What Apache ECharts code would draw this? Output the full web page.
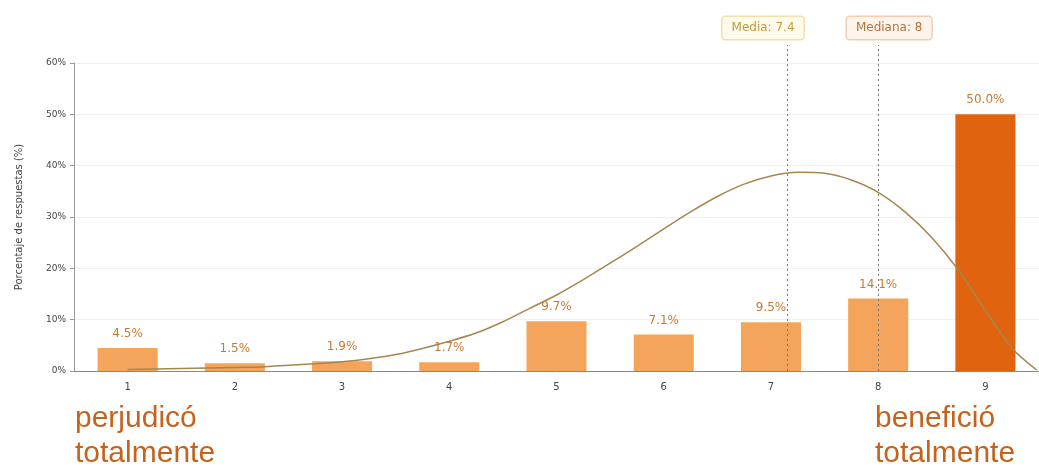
<!DOCTYPE html>
<html><head><meta charset="utf-8">
<script src="https://cdn.jsdelivr.net/npm/echarts@6/dist/echarts.min.js"></script>
<style>html,body{margin:0;padding:0;background:#fff}#c{width:1039px;height:475px}</style>
</head><body><div id="c"></div>
<script>
const categories = ['1','2','3','4','5','6','7','8','9'];
const percentages = [4.5, 1.5, 1.9, 1.7, 9.7, 7.1, 9.5, 14.1, 50.0];
const yTicks = [0, 10, 20, 30, 40, 50, 60];
const curveX = [1.0, 1.25, 1.5, 1.75, 2.0, 2.25, 2.5, 2.75, 3.0, 3.25, 3.5, 3.75, 4.0, 4.25, 4.5, 4.75, 5.0, 5.25, 5.5, 5.75, 6.0, 6.25, 6.5, 6.75, 7.0, 7.25, 7.5, 7.75, 8.0, 8.25, 8.5, 8.75, 9.0, 9.25, 9.48];
const curveY = [0.3, 0.4, 0.5, 0.6, 0.7, 0.8, 1.1, 1.4, 1.8, 2.4, 3.2, 4.4, 5.8, 7.4, 9.6, 12.2, 14.8, 17.8, 21.0, 24.3, 27.7, 31.0, 34.0, 36.4, 38.0, 38.7, 38.5, 37.2, 34.8, 31.0, 26.0, 19.6, 11.8, 4.4, 0.2];
const mediaLabel = 'Media: 7.4';
const mediaPos = 7.15;
const medianaLabel = 'Mediana: 8';
const medianaPos = 8;
const leftText = ['perjudicó', 'totalmente'];
const rightText = ['benefició', 'totalmente'];

const chart = echarts.init(document.getElementById('c'));
const barColor = '#f4a55b';
const lastColor = '#e0640f';
const boxLabel = (text, color, bg, border, dx) => ({
  show: true, position: 'end', distance: 3, formatter: text,
  color: color, fontSize: 12, backgroundColor: bg, borderColor: border, borderWidth: 1.5, borderRadius: 3,
  padding: [5, 9], offset: [dx, -3], fontFamily: 'DejaVu Sans'
});
chart.setOption({
  animation: false,
  grid: [
    {left: 74, right: 0, top: 63, bottom: 104},
    {left: 74, right: 0, top: 45, bottom: 104}
  ],
  xAxis: [{
    type: 'category', data: categories, gridIndex: 0,
    axisLine: {lineStyle: {color: '#888', width: 1}},
    axisTick: {show: false},
    axisLabel: {color: '#444', fontSize: 10, margin: 11, fontFamily: 'DejaVu Sans'}
  }, {
    type: 'value', min: 0.5, max: 9.5, show: false, gridIndex: 0
  }, {
    type: 'value', min: 0.5, max: 9.5, show: false, gridIndex: 1
  }],
  yAxis: [{
    type: 'value', min: 0, max: 60, interval: 10, gridIndex: 0,
    name: 'Porcentaje de respuestas (%)', nameLocation: 'middle', nameGap: 50,
    nameTextStyle: {color: '#444', fontSize: 10, fontFamily: 'DejaVu Sans'},
    axisLine: {show: true, lineStyle: {color: '#999'}},
    axisTick: {show: true, length: 4, lineStyle: {color: '#999'}},
    axisLabel: {color: '#444', fontSize: 9, fontFamily: 'DejaVu Sans', formatter: v => yTicks.includes(v) ? v + '%' : ''},
    splitLine: {lineStyle: {color: '#f0f0f0'}}
  }, {
    type: 'value', min: 0, max: 1, show: false, gridIndex: 1
  }],
  series: [{
    type: 'bar', xAxisIndex: 0, yAxisIndex: 0,
    data: percentages.map((v, i) => ({value: v, itemStyle: {color: i === percentages.length - 1 ? lastColor : barColor}})),
    barWidth: '56%',
    label: {show: true, position: 'top', distance: 8, color: '#c77a2e', fontSize: 12, fontFamily: 'DejaVu Sans',
      formatter: p => p.value.toFixed(1) + '%'}
  }, {
    type: 'line', xAxisIndex: 2, yAxisIndex: 1, symbol: 'none', silent: true,
    data: [[mediaPos, 0], [medianaPos, 0]],
    lineStyle: {opacity: 0},
    z: 4,
    markLine: {
      symbol: 'none', silent: true,
      lineStyle: {color: '#777', type: [2, 3], width: 1},
      data: [
        [{coord: [mediaPos, 0]}, {coord: [mediaPos, 1], label: boxLabel(mediaLabel, '#c49a3a', '#fffbec', '#f3dfae', -24)}],
        [{coord: [medianaPos, 0]}, {coord: [medianaPos, 1], label: boxLabel(medianaLabel, '#b5733c', '#fff4ec', '#f1cdb4', 11)}]
      ]
    }
  }, {
    type: 'line', xAxisIndex: 1, yAxisIndex: 0, smooth: 0.3, symbol: 'none',
    data: curveX.map((x, i) => [x, curveY[i]]),
    lineStyle: {color: '#a4874f', width: 1.5},
    z: 5
  }],
  graphic: [
    {type: 'text', left: 75, top: 401, style: {text: leftText.join('\n'), fill: '#c4631e', font: '30px "Liberation Sans"', lineHeight: 35}},
    {type: 'text', left: 875, top: 401, style: {text: rightText.join('\n'), fill: '#c4631e', font: '30px "Liberation Sans"', lineHeight: 35}}
  ]
});
</script></body></html>
